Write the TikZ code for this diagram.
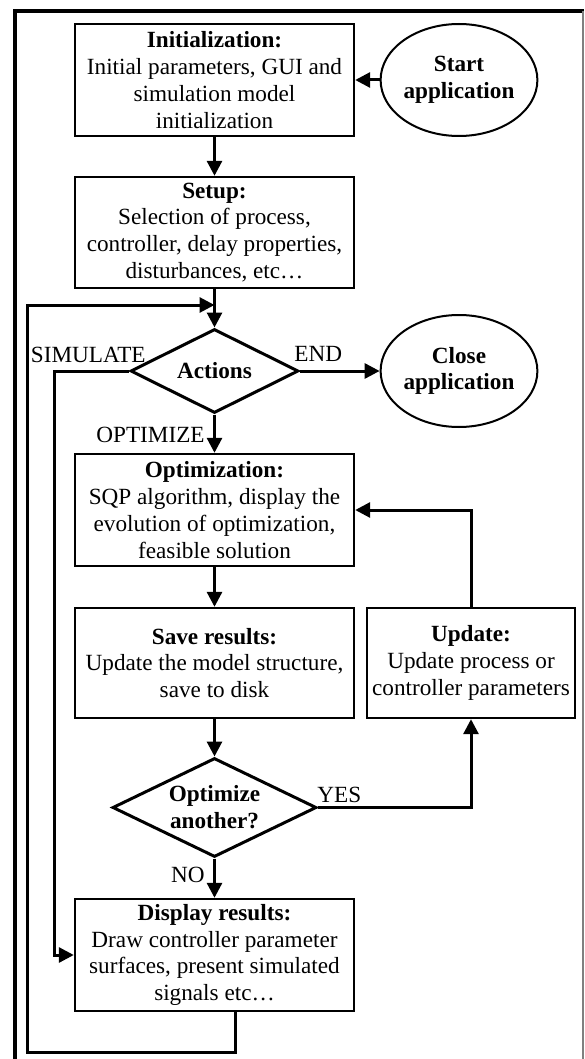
\documentclass[tikz,border=0pt]{standalone}
\usepackage{fontspec}
\setmainfont{Liberation Serif}
\usetikzlibrary{shapes.geometric,arrows.meta}
\begin{document}
\begin{tikzpicture}[x=0.5pt,y=-0.5pt,
        font=\fontsize{11.6}{13.4}\selectfont,
        stage/.style={draw,line width=1.2pt,align=center,minimum width=139.5pt,
            minimum height=56pt,inner sep=1.5pt},
        terminal/.style={draw,ellipse,line width=1pt,align=center,
            font=\fontsize{11.6}{13.4}\selectfont\bfseries,
            minimum width=69pt,minimum height=56pt,inner sep=0pt},
        choice/.style={draw,diamond,line width=1.5pt,align=center,aspect=2,
            font=\fontsize{11.6}{13.4}\selectfont\bfseries,inner sep=0pt},
        tag/.style={inner sep=0pt},
        flow/.style={line width=1.5pt},
        arr/.style={flow,-{Triangle[length=7.5pt,width=7.5pt]}}]
\useasboundingbox (0,0) rectangle (584,1059);

\draw[line width=2pt] (15,1059) -- (15,11.5) -- (584,11.5);
\draw[gray,line width=0.6pt] (583,11.5) -- (583,1059);

\node[stage] (init) at (214.5,80) {\textbf{Initialization:}\\Initial parameters, GUI and\\simulation model\\initialization};
\node[terminal] (start) at (459,80) {Start\\application};
\node[stage,minimum height=55.5pt] (setup) at (214.5,232.5) {\textbf{Setup:}\\Selection of process,\\controller, delay properties,\\disturbances, etc…};
\coordinate (join) at (214.5,305);
\node[choice,minimum width=84pt,minimum height=42pt] (actions) at (214.5,371) {Actions};
\node[terminal] (close) at (459,371) {Close\\application};
\node[stage] (opt) at (214.5,510) {\textbf{Optimization:}\\SQP algorithm, display the\\evolution of optimization,\\feasible solution};
\node[stage,minimum height=55pt] (save) at (214.5,663) {\textbf{Save results:}\\Update the model structure,\\save to disk};
\node[stage,minimum width=104pt,minimum height=55pt] (update) at (471,663) {\textbf{Update:}\\Update process or\\controller parameters};
\node[choice,minimum width=102pt,minimum height=49.5pt] (ask) at (214.5,807.5) {Optimize\\another?};
\node[stage] (display) at (214.5,955) {\textbf{Display results:}\\Draw controller parameter\\surfaces, present simulated\\signals etc…};

\node[tag,anchor=base east] (simlbl) at (146,362) {SIMULATE};
\node[tag,anchor=base west] (endlbl) at (294,361) {END};
\node[tag,anchor=base east] (optlbl) at (205,442) {OPTIMIZE};
\node[tag,anchor=base west] (yeslbl) at (317,802) {YES};
\node[tag,anchor=base east] (nolbl) at (205,882) {NO};

\draw[arr] (start) -- (init);
\draw[arr] (init) -- (setup);
\draw[arr] (setup) -- (actions);
\draw[arr] ([xshift=10.25pt]display.south) -- ++(0,40) -| (27,305) -- (join);
\draw[arr] (actions.west) -- ++(-75,0) |- (display.west);
\draw[arr] (actions) -- (close);
\draw[arr] (actions) -- (opt);
\draw[arr] (opt) -- (save);
\draw[arr] (update) |- (opt.east);
\draw[arr] (save) -- (ask);
\draw[arr] (ask.east) -| (update.south);
\draw[arr] (ask) -- (display);
\end{tikzpicture}
\end{document}
